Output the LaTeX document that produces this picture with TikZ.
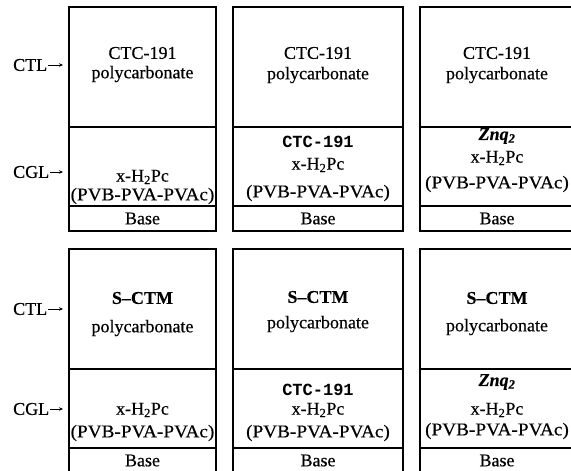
\documentclass[tikz,border=0pt]{standalone}
\usepackage{fontspec}
\setmainfont{Liberation Serif}[FakeBold=0.4]
\newfontfamily\slabfont{Liberation Mono}
\usetikzlibrary{arrows.meta}
\begin{document}
\begin{tikzpicture}[x=1pt,y=-1pt,
  layer/.style={draw,rectangle,line width=1.7pt,inner sep=0pt,outer sep=0pt},
  txt/.style={inner sep=0pt,font=\fontsize{18}{21}\selectfont},
  wide/.style={txt,xscale=1.07},
  mono/.style={inner sep=0pt,font=\slabfont\bfseries\fontsize{17}{19}\selectfont},
  heavy/.style={inner sep=0pt,font=\bfseries\fontsize{18}{21}\selectfont},
  side/.style={inner sep=0pt,anchor=west,font=\fontsize{18}{21}\selectfont},
  pointer/.style={-{Stealth[length=4pt,width=3.5pt]},line width=0.8pt,shorten <=1pt,shorten >=6pt}
]
\useasboundingbox (0,0) rectangle (571,471);

% three columns of two stacked photoreceptor cross-sections
\foreach \c/\l/\r in {A/69/216,B/233/403,C/420/574}{
  \foreach \rw/\t in {1/7,2/249}{
    \pgfmathsetmacro\cx{(\l+\r)/2}
    \pgfmathsetmacro\w{\r-\l}
    \node[layer,minimum width=\w pt,minimum height=120pt] (ctl\c\rw) at (\cx,\t+60) {};
    \node[layer,minimum width=\w pt,minimum height=79pt] (cgl\c\rw) at (\cx,\t+159.5) {};
    \node[layer,minimum width=\w pt,minimum height=25pt] (base\c\rw) at (\cx,\t+211.5) {};
    \node[txt] (basetxt\c\rw) at (base\c\rw) {Base};
  }
}

% layer labels
\node[side] (lctl1) at (13,65) {CTL};
\node[side] (lcgl1) at (13,172) {CGL};
\node[side] (lctl2) at (13,309) {CTL};
\node[side] (lcgl2) at (13,409) {CGL};
\draw[pointer] (lctl1.east) -- (lctl1.east -| ctlA1.west);
\draw[pointer] (lcgl1.east) -- (lcgl1.east -| cglA1.west);
\draw[pointer] (lctl2.east) -- (lctl2.east -| ctlA2.west);
\draw[pointer] (lcgl2.east) -- (lcgl2.east -| cglA2.west);

% upper row
\node[txt] (ta1) at (142.5,53) {CTC-191};
\node[txt] (ta2) at (142.5,74) {polycarbonate};
\node[txt] (ta3) at (142.5,177) {x-H\textsubscript{2}Pc};
\node[wide] (ta4) at (142.5,196) {(PVB-PVA-PVAc)};

\node[txt] (tb1) at (318,53) {CTC-191};
\node[txt] (tb2) at (318,75) {polycarbonate};
\node[mono] (tb3) at (318,142) {CTC-191};
\node[txt] (tb4) at (318,165) {x-H\textsubscript{2}Pc};
\node[wide] (tb5) at (318,193) {(PVB-PVA-PVAc)};

\node[txt] (tc1) at (497,53) {CTC-191};
\node[txt] (tc2) at (497,75) {polycarbonate};
\node[txt] (tc3) at (497,136) {\textbf{\textit{Znq\textsubscript{2}}}};
\node[txt] (tc4) at (497,158) {x-H\textsubscript{2}Pc};
\node[wide] (tc5) at (497,184) {(PVB-PVA-PVAc)};

% lower row
\node[heavy] (sa1) at (142.5,298) {S--CTM};
\node[txt] (sa2) at (142.5,328) {polycarbonate};
\node[txt] (sa3) at (142.5,410) {x-H\textsubscript{2}Pc};
\node[wide] (sa4) at (142.5,433) {(PVB-PVA-PVAc)};

\node[heavy] (sb1) at (318,297) {S--CTM};
\node[txt] (sb2) at (318,324) {polycarbonate};
\node[mono] (sb3) at (318,390) {CTC-191};
\node[txt] (sb4) at (318,410) {x-H\textsubscript{2}Pc};
\node[wide] (sb5) at (318,433) {(PVB-PVA-PVAc)};

\node[heavy] (sc1) at (497,298) {S--CTM};
\node[txt] (sc2) at (497,327) {polycarbonate};
\node[txt] (sc3) at (497,382) {\textbf{\textit{Znq\textsubscript{2}}}};
\node[txt] (sc4) at (497,410) {x-H\textsubscript{2}Pc};
\node[wide] (sc5) at (497,431) {(PVB-PVA-PVAc)};
\end{tikzpicture}
\end{document}
